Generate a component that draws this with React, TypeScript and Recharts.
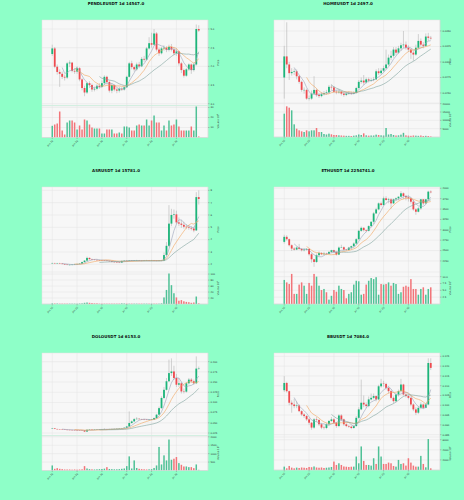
import React from 'react';
import { ComposedChart, BarChart, Bar, Line, XAxis, YAxis, CartesianGrid } from 'recharts';

const X_TICKS = [0, 10, 20, 30, 40, 50];
const X_TICK_LABELS = ['Jun 10', 'Jun 20', 'Jun 30', 'Jul 10', 'Jul 20', 'Jul 30'];

// PENDLE
const PENDLE_OPEN0 = 4.33;
const PENDLE_CLOSE = [4.48, 3.99, 3.85, 3.80, 3.72, 3.70, 4.08, 4.10, 3.88, 3.86, 3.95, 3.65, 3.42, 3.30, 3.55, 3.50, 3.38, 3.40, 3.48, 3.45, 3.55, 3.72, 3.58, 3.35, 3.50, 3.38, 3.35, 3.40, 3.38, 3.44, 3.72, 4.08, 3.98, 3.92, 4.05, 4.00, 4.20, 4.18, 4.48, 4.62, 4.58, 4.88, 4.45, 4.35, 4.48, 4.50, 4.44, 4.52, 4.45, 4.35, 4.40, 4.08, 3.90, 3.75, 3.92, 4.05, 3.90, 4.05, 5.00, 4.96];
const PENDLE_HIGH = [4.58, 4.52, 4.05, 3.92, 3.86, 3.78, 4.12, 4.16, 4.12, 3.95, 4.00, 3.98, 3.68, 3.48, 3.58, 3.60, 3.54, 3.46, 3.52, 3.55, 3.62, 3.76, 3.75, 3.62, 3.55, 3.52, 3.42, 3.45, 3.44, 3.48, 3.75, 4.12, 4.15, 4.02, 4.10, 4.12, 4.25, 4.28, 4.52, 4.78, 4.90, 5.00, 4.92, 4.50, 4.52, 4.56, 4.54, 4.58, 4.60, 4.52, 4.48, 4.42, 4.12, 3.94, 3.96, 4.08, 4.08, 4.10, 5.12, 5.10];
const PENDLE_LOW = [4.28, 3.95, 3.78, 3.45, 3.66, 3.62, 3.66, 3.98, 3.84, 3.80, 3.80, 3.60, 3.36, 3.20, 3.26, 3.42, 3.32, 3.33, 3.36, 3.40, 3.42, 3.50, 3.52, 3.30, 3.28, 3.33, 3.28, 3.30, 3.34, 3.35, 3.42, 3.70, 3.92, 3.86, 3.88, 3.95, 3.98, 4.12, 4.15, 4.45, 4.50, 4.55, 4.40, 4.28, 4.32, 4.42, 4.38, 4.40, 4.40, 4.30, 4.28, 4.02, 3.82, 3.70, 3.72, 3.88, 3.80, 3.86, 4.02, 4.92];
const PENDLE_VOL = [11.7, 13, 14, 26, 7, 3, 15, 17, 17, 15, 8, 12, 8, 18, 17, 13, 10, 9, 9, 9, 4, 4, 8, 8, 8, 4, 4, 5, 4, 11, 11, 10, 7, 7, 12, 13, 12, 12, 18, 12, 17, 22, 15, 15, 7, 12, 7, 17, 12, 13, 18, 11, 7, 7, 7, 7, 11, 7, 31, 1];
const PENDLE_PRICE_TICKS = [3.0, 3.5, 4.0, 4.5, 5.0];
const PENDLE_VOL_TICKS = [10, 20, 30];

// HOME
const HOME_OPEN0 = 0.0275;
const HOME_CLOSE = [0.0309, 0.0296, 0.0282, 0.0284, 0.0285, 0.0277, 0.0268, 0.0255, 0.0255, 0.0241, 0.0241, 0.0249, 0.0255, 0.0247, 0.0245, 0.0248, 0.0250, 0.0251, 0.0260, 0.0259, 0.0252, 0.0251, 0.0252, 0.0249, 0.0247, 0.0249, 0.0250, 0.0249, 0.0250, 0.0258, 0.0268, 0.0270, 0.0267, 0.0272, 0.0270, 0.0271, 0.0272, 0.0285, 0.0282, 0.0286, 0.0290, 0.0296, 0.0307, 0.0310, 0.0320, 0.0315, 0.0322, 0.0327, 0.0328, 0.0323, 0.0320, 0.0315, 0.0312, 0.0323, 0.0334, 0.0328, 0.0326, 0.0341, 0.0339, 0.0338];
const HOME_HIGH = [0.0326, 0.0364, 0.0300, 0.0290, 0.0289, 0.0288, 0.0279, 0.0270, 0.0259, 0.0257, 0.0246, 0.0254, 0.0277, 0.0257, 0.0250, 0.0251, 0.0253, 0.0255, 0.0263, 0.0264, 0.0261, 0.0255, 0.0256, 0.0254, 0.0251, 0.0252, 0.0253, 0.0252, 0.0253, 0.0260, 0.0271, 0.0275, 0.0279, 0.0275, 0.0275, 0.0274, 0.0276, 0.0288, 0.0290, 0.0290, 0.0294, 0.0320, 0.0312, 0.0318, 0.0324, 0.0324, 0.0326, 0.0331, 0.0350, 0.0333, 0.0327, 0.0322, 0.0318, 0.0328, 0.0345, 0.0338, 0.0332, 0.0346, 0.0347, 0.0342];
const HOME_LOW = [0.0241, 0.0290, 0.0271, 0.0278, 0.0279, 0.0272, 0.0265, 0.0252, 0.0249, 0.0239, 0.0238, 0.0239, 0.0247, 0.0244, 0.0242, 0.0243, 0.0246, 0.0248, 0.0249, 0.0255, 0.0250, 0.0248, 0.0249, 0.0246, 0.0244, 0.0245, 0.0247, 0.0247, 0.0248, 0.0249, 0.0257, 0.0265, 0.0263, 0.0265, 0.0267, 0.0268, 0.0269, 0.0271, 0.0279, 0.0280, 0.0284, 0.0288, 0.0294, 0.0303, 0.0307, 0.0311, 0.0313, 0.0318, 0.0322, 0.0320, 0.0316, 0.0305, 0.0302, 0.0310, 0.0321, 0.0325, 0.0322, 0.0324, 0.0334, 0.0336];
const HOME_VOL = [14000, 18400, 17600, 16000, 7600, 5000, 4000, 3400, 3000, 4000, 3400, 4000, 4000, 5400, 3000, 3000, 1800, 1500, 2000, 1600, 1200, 1200, 1000, 900, 800, 700, 700, 600, 800, 1000, 1500, 1200, 2200, 1000, 800, 900, 900, 1400, 1200, 1000, 900, 5400, 1500, 1800, 1200, 900, 1000, 1400, 2500, 1000, 800, 700, 900, 800, 700, 900, 600, 700, 600, 300];
const HOME_PRICE_TICKS = [0.025, 0.0275, 0.03, 0.0325, 0.035];
const HOME_VOL_TICKS = [5000, 10000, 15000, 20000];

// ASR
const ASR_OPEN0 = 2.10;
const ASR_CLOSE = [2.10, 2.08, 2.09, 2.06, 2.02, 1.98, 1.95, 1.96, 1.97, 2.00, 2.03, 2.05, 2.18, 2.30, 2.52, 2.42, 2.38, 2.36, 2.34, 2.33, 2.32, 2.30, 2.28, 2.25, 2.20, 2.18, 2.16, 2.14, 2.27, 2.29, 2.28, 2.30, 2.29, 2.30, 2.31, 2.30, 2.29, 2.30, 2.31, 2.30, 2.31, 2.30, 2.29, 2.30, 2.31, 2.75, 3.50, 5.30, 6.00, 6.05, 5.40, 5.30, 5.20, 5.05, 5.00, 4.95, 4.90, 4.75, 7.45, 7.30];
const ASR_HIGH = [2.14, 2.13, 2.12, 2.12, 2.08, 2.04, 2.01, 2.00, 2.01, 2.04, 2.07, 2.09, 2.22, 2.34, 2.62, 2.56, 2.46, 2.42, 2.40, 2.38, 2.37, 2.35, 2.33, 2.31, 2.28, 2.24, 2.22, 2.20, 2.31, 2.33, 2.33, 2.34, 2.34, 2.34, 2.36, 2.35, 2.34, 2.35, 2.36, 2.35, 2.36, 2.35, 2.34, 2.34, 2.36, 2.95, 3.80, 6.80, 6.50, 6.45, 6.35, 5.80, 5.60, 5.45, 5.25, 5.20, 5.10, 5.05, 7.85, 8.00];
const ASR_LOW = [2.06, 2.05, 2.05, 2.03, 1.99, 1.95, 1.92, 1.92, 1.93, 1.95, 1.98, 2.01, 2.03, 2.15, 2.27, 2.38, 2.34, 2.32, 2.30, 2.29, 2.28, 2.26, 2.24, 2.21, 2.16, 2.14, 2.12, 2.10, 2.12, 2.24, 2.24, 2.25, 2.25, 2.26, 2.26, 2.26, 2.25, 2.25, 2.26, 2.26, 2.27, 2.26, 2.25, 2.25, 2.26, 2.25, 2.70, 3.40, 5.10, 5.70, 5.25, 5.10, 4.95, 4.90, 4.85, 4.80, 4.75, 4.60, 4.70, 6.85];
const ASR_VOL = [2, 1.5, 1.5, 1, 1, 1, 1, 1, 1, 1, 1, 1.5, 2, 4, 5, 4, 3, 2, 2, 1, 1, 1, 1, 1, 1, 1, 1, 1, 2, 1.5, 1, 1, 1, 1, 1, 1, 1, 1, 1, 1, 1, 1, 1, 1, 2, 22, 47, 102, 63, 36, 22, 11, 13, 9, 7, 6, 4, 5, 25, 2];
const ASR_PRICE_TICKS = [2, 3, 4, 5, 6, 7, 8];
const ASR_VOL_TICKS = [20, 40, 60, 80, 100];

// ETH
const ETH_OPEN0 = 2710;
const ETH_CLOSE = [2831, 2774, 2629, 2548, 2524, 2572, 2540, 2508, 2524, 2540, 2411, 2290, 2226, 2387, 2444, 2411, 2427, 2419, 2468, 2508, 2468, 2403, 2572, 2580, 2524, 2516, 2572, 2605, 2669, 2774, 2976, 3048, 2992, 2976, 3089, 3194, 3395, 3492, 3637, 3597, 3758, 3718, 3733, 3637, 3734, 3758, 3798, 3879, 3815, 3782, 3758, 3677, 3492, 3435, 3516, 3734, 3637, 3734, 3919, 3903];
const ETH_HIGH = [2880, 2870, 2790, 2650, 2580, 2600, 2660, 2560, 2560, 2560, 2550, 2440, 2300, 2430, 2480, 2460, 2470, 2450, 2490, 2520, 2520, 2490, 2600, 2640, 2600, 2540, 2590, 2620, 2700, 2800, 3000, 3080, 3060, 3010, 3110, 3200, 3430, 3530, 3660, 3680, 3800, 3810, 3770, 3760, 3750, 3780, 3800, 3930, 3900, 3840, 3840, 3780, 3720, 3520, 3550, 3740, 3740, 3740, 3940, 3950];
const ETH_LOW = [2670, 2740, 2600, 2490, 2500, 2510, 2520, 2480, 2480, 2500, 2380, 2210, 2110, 2200, 2380, 2390, 2400, 2390, 2410, 2440, 2450, 2380, 2390, 2560, 2500, 2490, 2500, 2520, 2590, 2650, 2760, 2950, 2960, 2940, 2960, 3060, 3140, 3380, 3470, 3560, 3580, 3700, 3640, 3510, 3620, 3690, 3710, 3780, 3740, 3710, 3680, 3630, 3460, 3360, 3420, 3480, 3590, 3620, 3720, 3880];
const ETH_VOL = [8.8, 7.9, 7.3, 11, 3.7, 3.7, 7.1, 7.9, 6.7, 3.7, 7.7, 6.7, 11, 10, 6.7, 5.1, 5.5, 4.3, 1.6, 3, 5.1, 4.5, 6.7, 5.5, 5.1, 2.1, 3.7, 4.3, 7.1, 8.5, 8.3, 3.4, 3.7, 7.1, 8.5, 9.5, 9.1, 9.8, 3.4, 7.3, 7.1, 7.3, 7.9, 6.7, 7.7, 7.3, 3.7, 4.3, 6.3, 6.7, 6.3, 9.1, 5.5, 5.5, 3.4, 5.5, 6.1, 3.4, 5.5, 6.1];
const ETH_PRICE_TICKS = [2250, 2500, 2750, 3000, 3250, 3500, 3750, 4000];
const ETH_VOL_TICKS = [2.5, 5, 7.5, 10];

// DOLO
const DOLO_OPEN0 = 0.0357;
const DOLO_CLOSE = [0.0365, 0.0350, 0.0340, 0.0338, 0.0335, 0.0330, 0.0328, 0.0326, 0.0325, 0.0322, 0.0320, 0.0318, 0.0316, 0.0285, 0.0330, 0.0335, 0.0332, 0.0336, 0.0338, 0.0340, 0.0342, 0.0345, 0.0340, 0.0348, 0.0350, 0.0352, 0.0355, 0.0360, 0.0368, 0.0380, 0.0410, 0.0495, 0.0535, 0.0590, 0.0600, 0.0590, 0.0585, 0.0580, 0.0575, 0.0577, 0.0580, 0.0617, 0.0700, 0.0860, 0.1110, 0.1310, 0.1520, 0.1720, 0.1760, 0.1600, 0.1435, 0.1470, 0.1270, 0.1265, 0.1470, 0.1560, 0.1520, 0.1470, 0.1830, 0.1840];
const DOLO_HIGH = [0.0375, 0.0368, 0.0352, 0.0345, 0.0342, 0.0338, 0.0334, 0.0332, 0.0330, 0.0328, 0.0326, 0.0324, 0.0321, 0.0320, 0.0338, 0.0342, 0.0340, 0.0342, 0.0345, 0.0346, 0.0350, 0.0365, 0.0350, 0.0354, 0.0356, 0.0358, 0.0362, 0.0368, 0.0375, 0.0390, 0.0425, 0.0780, 0.0560, 0.0620, 0.0640, 0.0615, 0.0600, 0.0598, 0.0592, 0.0590, 0.0595, 0.0630, 0.0720, 0.0900, 0.1150, 0.1380, 0.1600, 0.2050, 0.2080, 0.1900, 0.1700, 0.1600, 0.1500, 0.1340, 0.1500, 0.1600, 0.1600, 0.1560, 0.2130, 0.1880];
const DOLO_LOW = [0.0352, 0.0345, 0.0336, 0.0333, 0.0330, 0.0326, 0.0324, 0.0322, 0.0320, 0.0318, 0.0316, 0.0314, 0.0310, 0.0275, 0.0280, 0.0326, 0.0328, 0.0328, 0.0332, 0.0334, 0.0336, 0.0338, 0.0335, 0.0336, 0.0344, 0.0346, 0.0348, 0.0352, 0.0358, 0.0365, 0.0375, 0.0405, 0.0480, 0.0525, 0.0575, 0.0575, 0.0570, 0.0565, 0.0562, 0.0565, 0.0568, 0.0570, 0.0605, 0.0690, 0.0850, 0.1080, 0.1290, 0.1500, 0.1650, 0.1550, 0.1380, 0.1380, 0.1220, 0.1220, 0.1240, 0.1440, 0.1480, 0.1430, 0.1450, 0.1800];
const DOLO_VOL = [300, 100, 140, 100, 80, 60, 60, 60, 50, 60, 50, 60, 70, 260, 120, 80, 70, 60, 70, 80, 90, 110, 200, 90, 80, 70, 70, 80, 100, 120, 260, 840, 120, 600, 150, 100, 80, 70, 60, 70, 80, 150, 300, 1400, 360, 900, 600, 1840, 640, 700, 800, 440, 340, 240, 240, 200, 200, 140, 360, 40];
const DOLO_PRICE_TICKS = [0.025, 0.05, 0.075, 0.1, 0.125, 0.15, 0.175, 0.2];
const DOLO_VOL_TICKS = [500, 1000, 1500, 2000];

// BB
const BB_OPEN0 = 0.1077;
const BB_CLOSE = [0.1114, 0.1072, 0.1013, 0.1004, 0.0996, 0.0999, 0.0970, 0.0953, 0.0945, 0.0928, 0.0911, 0.0886, 0.0928, 0.0925, 0.0903, 0.0886, 0.0884, 0.0903, 0.0920, 0.0928, 0.0911, 0.0894, 0.0948, 0.0928, 0.0903, 0.0894, 0.0891, 0.0884, 0.0894, 0.0936, 0.0979, 0.1013, 0.1004, 0.0996, 0.1030, 0.1038, 0.1047, 0.1030, 0.1097, 0.1111, 0.1109, 0.1089, 0.1072, 0.1038, 0.1021, 0.1055, 0.1072, 0.1106, 0.1055, 0.1047, 0.1038, 0.1004, 0.0979, 0.0962, 0.0987, 0.1004, 0.0987, 0.1004, 0.1216, 0.1191];
const BB_HIGH = [0.1149, 0.1120, 0.1075, 0.1025, 0.1033, 0.1020, 0.1005, 0.0975, 0.0960, 0.0950, 0.0935, 0.0915, 0.0935, 0.0940, 0.0930, 0.0910, 0.0895, 0.0910, 0.0925, 0.0940, 0.0935, 0.0915, 0.0955, 0.0955, 0.0932, 0.0908, 0.0900, 0.0896, 0.0900, 0.0945, 0.0990, 0.1131, 0.1050, 0.1015, 0.1045, 0.1060, 0.1060, 0.1050, 0.1105, 0.1135, 0.1125, 0.1115, 0.1095, 0.1080, 0.1045, 0.1062, 0.1080, 0.1135, 0.1110, 0.1065, 0.1055, 0.1045, 0.1010, 0.0990, 0.0995, 0.1015, 0.1010, 0.1010, 0.1240, 0.1240];
const BB_LOW = [0.1068, 0.1065, 0.1000, 0.0962, 0.0985, 0.0985, 0.0965, 0.0945, 0.0935, 0.0920, 0.0900, 0.0875, 0.0880, 0.0915, 0.0895, 0.0878, 0.0876, 0.0878, 0.0895, 0.0915, 0.0905, 0.0885, 0.0888, 0.0920, 0.0895, 0.0888, 0.0885, 0.0878, 0.0880, 0.0890, 0.0930, 0.0975, 0.0990, 0.0985, 0.0990, 0.1025, 0.1030, 0.1020, 0.1025, 0.1090, 0.1095, 0.1080, 0.1060, 0.1030, 0.1010, 0.1015, 0.1045, 0.1065, 0.1050, 0.1040, 0.1030, 0.0995, 0.0970, 0.0950, 0.0955, 0.0980, 0.0980, 0.0985, 0.1000, 0.1180];
const BB_VOL = [670, 330, 800, 470, 330, 470, 400, 500, 450, 400, 600, 550, 700, 500, 450, 500, 400, 450, 500, 600, 1670, 1000, 1330, 1000, 700, 650, 600, 650, 670, 2670, 1330, 4670, 1800, 1000, 1000, 870, 2330, 1200, 4670, 2670, 1200, 1200, 1470, 1330, 800, 670, 2000, 1200, 1330, 870, 2330, 1470, 870, 670, 670, 2800, 1200, 530, 6130, 330];
const BB_PRICE_TICKS = [0.085, 0.09, 0.095, 0.1, 0.105, 0.11, 0.115, 0.12, 0.125];
const BB_VOL_TICKS = [2000, 4000, 6000];

const GREEN = '#1cb57a';
const RED = '#ef4a4f';
const VOL_GREEN = '#4fc196';
const VOL_RED = '#f27479';
const WICK = '#a9a9a9';
const MA_COLORS = ['#9aa3b8', '#f1a45c', '#7fa39d'];
const BG = '#8effc8';
const FONT = 'DejaVu Sans, sans-serif';
const CELL_W = 232;
const CELL_H = 500 / 3;
const PLOT_TOP = 20;
const VOL_BOTTOM = 137;

const PANELS = [
  { title: 'PENDLEUSDT 1d 14547.0', open0: PENDLE_OPEN0, close: PENDLE_CLOSE, high: PENDLE_HIGH, low: PENDLE_LOW, vol: PENDLE_VOL,
    priceDomain: [2.952, 5.241], priceTicks: PENDLE_PRICE_TICKS, pd: 1, volDomain: [0, 31.5], volTicks: PENDLE_VOL_TICKS, vd: 0, exp: '6', split: 105.5 },
  { title: 'HOMEUSDT 1d 2497.0', open0: HOME_OPEN0, close: HOME_CLOSE, high: HOME_HIGH, low: HOME_LOW, vol: HOME_VOL,
    priceDomain: [0.02339, 0.03677], priceTicks: HOME_PRICE_TICKS, pd: 4, volDomain: [0, 20400], volTicks: HOME_VOL_TICKS, vd: 0, exp: '5', split: 103 },
  { title: 'ASRUSDT 1d 15781.0', open0: ASR_OPEN0, close: ASR_CLOSE, high: ASR_HIGH, low: ASR_LOW, vol: ASR_VOL,
    priceDomain: [1.376, 8.27], priceTicks: ASR_PRICE_TICKS, pd: 0, volDomain: [0, 107], volTicks: ASR_VOL_TICKS, vd: 0, exp: '4', split: 105 },
  { title: 'ETHUSDT 1d 2254741.0', open0: ETH_OPEN0, close: ETH_CLOSE, high: ETH_HIGH, low: ETH_LOW, vol: ETH_VOL,
    priceDomain: [1984, 4031], priceTicks: ETH_PRICE_TICKS, pd: 0, volDomain: [0, 11.7], volTicks: ETH_VOL_TICKS, vd: 1, exp: '5', split: 105 },
  { title: 'DOLOUSDT 1d 6153.0', open0: DOLO_OPEN0, close: DOLO_CLOSE, high: DOLO_HIGH, low: DOLO_LOW, vol: DOLO_VOL,
    priceDomain: [0.0189, 0.2213], priceTicks: DOLO_PRICE_TICKS, pd: 3, volDomain: [0, 2050], volTicks: DOLO_VOL_TICKS, vd: 0, exp: '5', split: 102.5 },
  { title: 'BBUSDT 1d 7084.0', open0: BB_OPEN0, close: BB_CLOSE, high: BB_HIGH, low: BB_LOW, vol: BB_VOL,
    priceDomain: [0.0838, 0.1267], priceTicks: BB_PRICE_TICKS, pd: 3, volDomain: [0, 6540], volTicks: BB_VOL_TICKS, vd: 0, exp: '4', split: 104 },
];

// simple moving average of the closes
const sma = (arr: number[], n: number) =>
  arr.map((_, i) => (i < n - 1 ? null : arr.slice(i - n + 1, i + 1).reduce((a, b) => a + b, 0) / n));

const Candle = (props: any) => {
  const { x, y, width, height, payload } = props;
  const { open, close, high, low } = payload;
  const h = Math.abs(height);
  const top = Math.min(y, y + height);
  const k = h / (high - low);
  const yOf = (v: number) => top + (high - v) * k;
  const cx = x + width / 2;
  const b1 = yOf(Math.max(open, close));
  const b2 = yOf(Math.min(open, close));
  const w = 1.8;
  return (
    <g>
      <line x1={cx} x2={cx} y1={top} y2={top + h} stroke={WICK} strokeWidth={0.5} />
      <rect x={cx - w / 2} y={b1} width={w} height={Math.max(b2 - b1, 0.4)} fill={close >= open ? GREEN : RED} />
    </g>
  );
};

const VolBar = (props: any) => {
  const { x, y, width, height, payload } = props;
  const w = 1.5;
  const cx = x + width / 2;
  return <rect x={cx - w / 2} y={Math.min(y, y + height)} width={w} height={Math.abs(height)} fill={payload.up ? VOL_GREEN : VOL_RED} />;
};

const tickStyle = { fontSize: 2.4, fill: '#333', fontFamily: FONT };

function Panel({ p, left, top }: any) {
  const ma5 = sma(p.close, 5);
  const ma10 = sma(p.close, 10);
  const ma20 = sma(p.close, 20);
  const rows = p.close.map((c: number, i: number) => {
    const o = i === 0 ? p.open0 : p.close[i - 1];
    return { i, open: o, close: c, high: p.high[i], low: p.low[i], range: [p.low[i], p.high[i]], vol: p.vol[i], up: c >= o, ma5: ma5[i], ma10: ma10[i], ma20: ma20[i] };
  });
  const volH = VOL_BOTTOM - p.split;
  const xPad = { left: 9, right: 8 };
  return (
    <div style={{ position: 'absolute', left, top, width: CELL_W, height: CELL_H }}>
      <div style={{ position: 'absolute', left: 0, top: 0 }}>
        <ComposedChart width={CELL_W} height={p.split} data={rows} margin={{ top: PLOT_TOP, right: 0, bottom: 0, left: 42 }}>
          <CartesianGrid fill="#f7f7f7" stroke="#e3e3e3" strokeWidth={0.5} />
          <XAxis dataKey="i" type="category" hide ticks={X_TICKS} interval={0} padding={xPad} />
          <YAxis orientation="right" width={24} domain={p.priceDomain} allowDataOverflow ticks={p.priceTicks} interval={0}
            tickFormatter={(v: number) => v.toFixed(p.pd)} tick={tickStyle} tickSize={1.5} tickMargin={1}
            tickLine={{ stroke: '#777', strokeWidth: 0.4 }} axisLine={{ stroke: '#d0d0d0', strokeWidth: 0.5 }} />
          <Bar dataKey="range" shape={Candle} isAnimationActive={false} />
          <Line dataKey="ma5" stroke={MA_COLORS[0]} strokeWidth={0.6} dot={false} isAnimationActive={false} />
          <Line dataKey="ma10" stroke={MA_COLORS[1]} strokeWidth={0.6} dot={false} isAnimationActive={false} />
          <Line dataKey="ma20" stroke={MA_COLORS[2]} strokeWidth={0.6} dot={false} isAnimationActive={false} />
        </ComposedChart>
      </div>
      <div style={{ position: 'absolute', left: 0, top: p.split }}>
        <BarChart width={CELL_W} height={volH + 28} data={rows} margin={{ top: 0, right: 0, bottom: 0, left: 42 }}>
          <CartesianGrid fill="#f7f7f7" stroke="#e3e3e3" strokeWidth={0.5} />
          <XAxis dataKey="i" type="category" ticks={X_TICKS} interval={0} padding={xPad} height={28}
            tickFormatter={(v: number) => X_TICK_LABELS[X_TICKS.indexOf(v)] ?? ''}
            angle={-45} textAnchor="end" tick={tickStyle} tickSize={1.5} tickMargin={1}
            tickLine={{ stroke: '#777', strokeWidth: 0.4 }} axisLine={{ stroke: '#d0d0d0', strokeWidth: 0.5 }} />
          <YAxis orientation="right" width={24} domain={p.volDomain} allowDataOverflow ticks={p.volTicks} interval={0}
            tickFormatter={(v: number) => v.toFixed(p.vd)} tick={tickStyle} tickSize={1.5} tickMargin={1}
            tickLine={{ stroke: '#777', strokeWidth: 0.4 }} axisLine={{ stroke: '#d0d0d0', strokeWidth: 0.5 }} />
          <Bar dataKey="vol" shape={VolBar} isAnimationActive={false} />
        </BarChart>
      </div>
      <svg width={CELL_W} height={CELL_H} style={{ position: 'absolute', left: 0, top: 0, pointerEvents: 'none' }}>
        <text x={116} y={4.6} textAnchor="middle" fontSize={4} fontWeight="bold" fontFamily={FONT} fill="#111">{p.title}</text>
        <text x={0} y={0} transform={`translate(219,${(PLOT_TOP + p.split) / 2}) rotate(-90)`} textAnchor="middle" fontSize={2.5} fontFamily={FONT} fill="#333">Price</text>
        <text x={0} y={0} transform={`translate(219,${(p.split + VOL_BOTTOM) / 2}) rotate(-90)`} textAnchor="middle" fontSize={2.5} fontFamily={FONT} fill="#333">
          Volume  10<tspan dy={-1} fontSize={1.8}>{p.exp}</tspan>
        </text>
      </svg>
    </div>
  );
}

export default function App() {
  return (
    <div style={{ position: 'relative', width: 464, height: 500, background: BG, overflow: 'hidden' }}>
      <style>{`html,body{margin:0;padding:0;background:${BG};}`}</style>
      {PANELS.map((p, k) => (
        <Panel key={p.title} p={p} left={(k % 2) * CELL_W} top={Math.floor(k / 2) * CELL_H} />
      ))}
    </div>
  );
}
